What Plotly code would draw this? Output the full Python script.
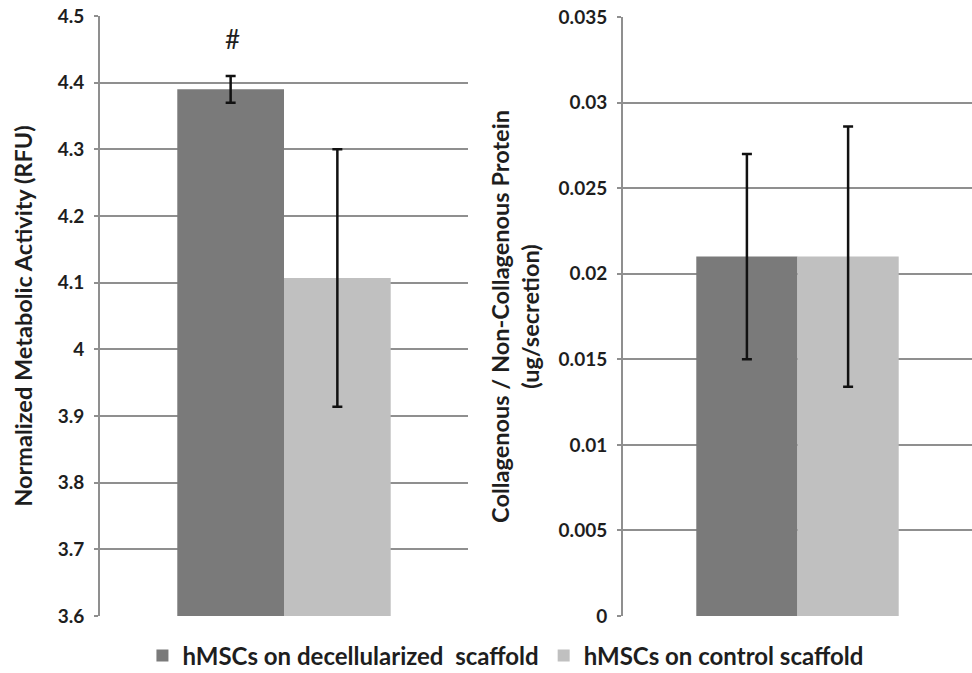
import plotly.graph_objects as go

series_names = ["hMSCs on decellularized\u00a0 scaffold", "hMSCs on control scaffold"]
colors = ["#7a7a7a", "#c0c0c0"]

# Left panel: metabolic activity
meta_vals = [4.39, 4.107]
meta_err = [0.02, 0.193]
meta_ticks = [3.6, 3.7, 3.8, 3.9, 4.0, 4.1, 4.2, 4.3, 4.4, 4.5]
meta_ticklabels = ["3.6", "3.7", "3.8", "3.9", "4", "4.1", "4.2", "4.3", "4.4", "4.5"]

# Right panel: collagenous / non-collagenous protein
coll_vals = [0.021, 0.021]
coll_err = [0.006, 0.0076]
coll_ticks = [0, 0.005, 0.01, 0.015, 0.02, 0.025, 0.03, 0.035]
coll_ticklabels = ["0", "0.005", "0.01", "0.015", "0.02", "0.025", "0.03", "0.035"]

FONT = "Lato"
grid = "#8f8f8f"
txt = "#1e1e1e"

fig = go.Figure()
for i in range(2):
    fig.add_trace(go.Bar(
        x=["g"], y=[meta_vals[i]], name=series_names[i], marker_color=colors[i],
        marker_line_width=0, xaxis="x", yaxis="y", legendgroup=str(i),
        error_y=dict(type="data", array=[meta_err[i]], color="#111111", thickness=2.5, width=5),
    ))
for i in range(2):
    fig.add_trace(go.Bar(
        x=["g"], y=[coll_vals[i]], name=series_names[i], marker_color=colors[i],
        marker_line_width=0, xaxis="x2", yaxis="y2", legendgroup=str(i), showlegend=False,
        error_y=dict(type="data", array=[coll_err[i]], color="#111111", thickness=2.5, width=5),
    ))

axis_common = dict(showgrid=True, gridcolor=grid, gridwidth=2, showline=True, linecolor=grid,
                   linewidth=2, ticks="outside", ticklen=4, tickcolor=grid, tickwidth=2,
                   ticklabelstandoff=6, automargin=False,
                   zeroline=False, tickfont=dict(family=FONT, size=19, color=txt, weight="bold"))

title_font = dict(family=FONT, size=23.5, color=txt, weight="bold")

fig.update_layout(
    width=972, height=673, margin=dict(l=0, r=0, t=0, b=0, autoexpand=False),
    paper_bgcolor="white", plot_bgcolor="white",
    barmode="group", bargap=0.42, bargroupgap=0,
    xaxis=dict(domain=[100/972, 468/972], showticklabels=False, showgrid=False, zeroline=False,
               showline=False, automargin=False),
    xaxis2=dict(domain=[623/972, 1.0], showticklabels=False, showgrid=False, zeroline=False,
                showline=False, automargin=False),
    yaxis=dict(domain=[1-616/673, 1-16/673], range=[3.6, 4.5], tickvals=meta_ticks,
               ticktext=meta_ticklabels, anchor="x",
               title=dict(text="Normalized Metabolic Activity (RFU)", standoff=18, font=title_font),
               **axis_common),
    yaxis2=dict(domain=[1-616/673, 1-17/673], range=[0, 0.035], tickvals=coll_ticks,
                ticktext=coll_ticklabels, anchor="x2",
                title=dict(text="Collagenous / Non-Collagenous Protein<br>(ug/secretion)", standoff=12,
                           font=title_font),
                **axis_common),
    legend=dict(orientation="h", x=0.52, xanchor="center", y=1-656/673, yanchor="middle",
                font=dict(family=FONT, size=24, color=txt, weight="bold"),
                itemwidth=30, traceorder="normal"),
    annotations=[dict(text="#", x="g", y=4.465, xref="x", yref="y", xshift=-52, showarrow=False,
                      font=dict(family=FONT, size=26, color=txt))],
)

fig.write_html("out.html")
